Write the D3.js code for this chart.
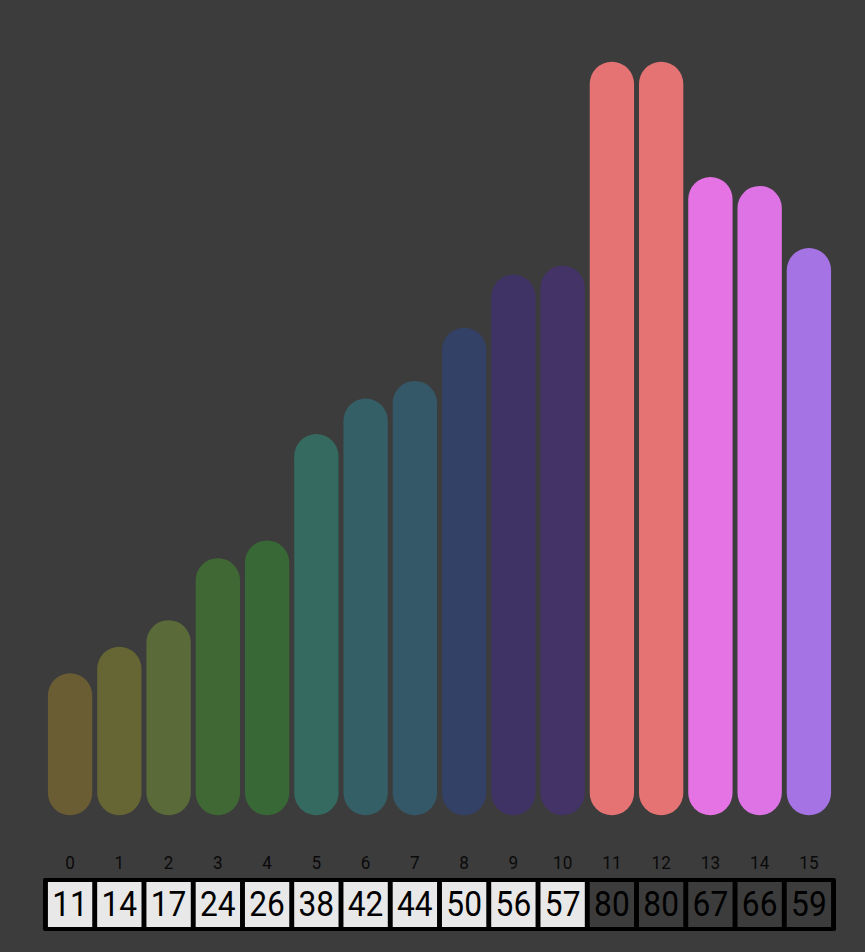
<!DOCTYPE html>
<html>
<head>
<meta charset="utf-8">
<script src="https://cdn.jsdelivr.net/npm/d3@7"></script>
<style>
  html, body { margin: 0; padding: 0; background: #3c3c3c; }
  svg { display: block; }
</style>
</head>
<body>
<svg id="chart" width="865" height="952"></svg>
<script>
// ---- data ----
const indices = [0, 1, 2, 3, 4, 5, 6, 7, 8, 9, 10, 11, 12, 13, 14, 15];
const values = [11, 14, 17, 24, 26, 38, 42, 44, 50, 56, 57, 80, 80, 67, 66, 59];
const highlighted = [false, false, false, false, false, false, false, false, false, false, false, true, true, true, true, true];

// ---- style palette ----
const barColors = ["#6b5d33", "#666634", "#5a6a38", "#3f6835", "#386835", "#346a5f", "#355f66", "#345868",
                   "#334166", "#3f3366", "#443366", "#e57373", "#e57373", "#e573e4", "#dd73e5", "#a673e5"];

const svg = d3.select("#chart");
const font = "Roboto, 'Noto Sans', sans-serif";

const x = d3.scaleBand().domain(indices).range([43, 836]).padding(0.1);
const y = d3.scaleLinear().domain([0, 80]).range([793, 84]);
const bw = x.bandwidth();
const r = bw / 2;

// bars
svg.append("g").selectAll("rect").data(indices).join("rect")
  .attr("x", i => x(i))
  .attr("y", i => y(values[i]) - r)
  .attr("width", bw)
  .attr("height", i => y(0) - y(values[i]) + bw)
  .attr("rx", r).attr("ry", r)
  .attr("fill", i => barColors[i]);

// index labels
svg.append("g").selectAll("text").data(indices).join("text")
  .attr("transform", i => `translate(${x(i) + r},869) scale(0.9,1)`)
  .attr("text-anchor", "middle")
  .attr("font-family", font)
  .attr("font-size", 19)
  .attr("fill", "#0a0a0a")
  .text(i => i);

// table frame
const t0 = x.range()[0], t1 = x.range()[1];
svg.append("rect")
  .attr("x", t0).attr("y", 878)
  .attr("width", t1 - t0).attr("height", 53)
  .attr("rx", 2)
  .attr("fill", "#000");

const cells = svg.append("g").selectAll("g").data(indices).join("g");
cells.append("rect")
  .attr("x", i => x(i))
  .attr("y", 882)
  .attr("width", bw)
  .attr("height", 45)
  .attr("fill", i => highlighted[i] ? "#3c3c3c" : "#e8e8e8");
cells.append("text")
  .attr("transform", i => `translate(${x(i) + r},916) scale(0.88,1)`)
  .attr("text-anchor", "middle")
  .attr("font-family", font)
  .attr("font-size", 36)
  .attr("fill", "#000")
  .text(i => values[i]);
</script>
</body>
</html>
